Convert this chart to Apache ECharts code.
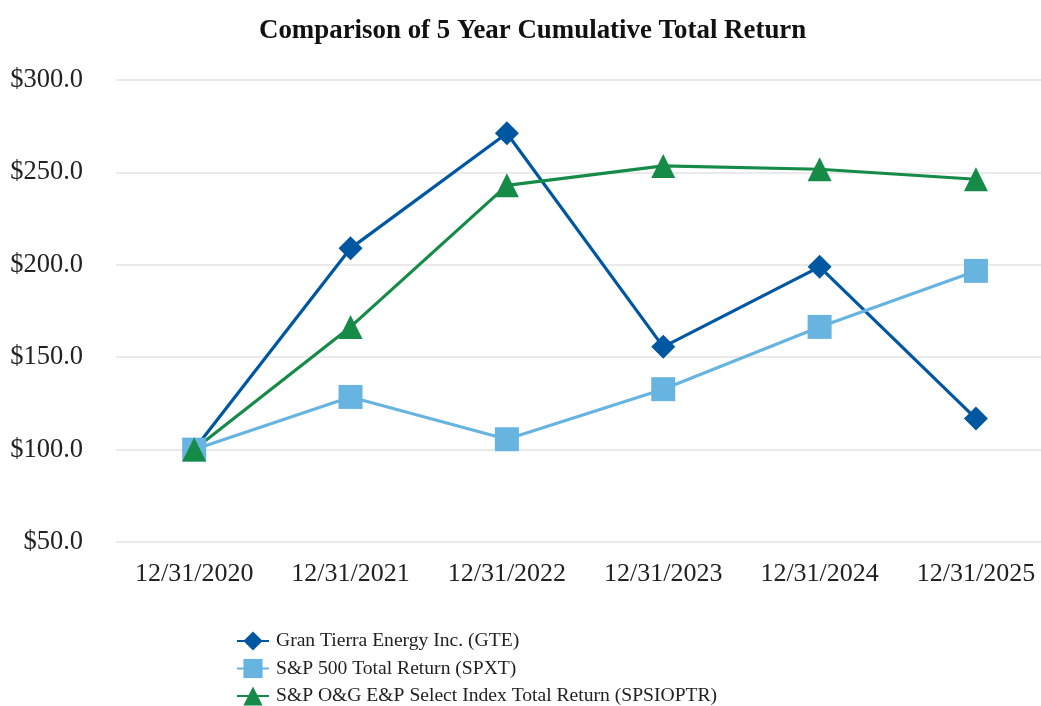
<!DOCTYPE html>
<html>
<head>
<meta charset="utf-8">
<script src="https://cdn.jsdelivr.net/npm/echarts@6/dist/echarts.min.js"></script>
<style>
  html, body { margin: 0; padding: 0; background: #fff; }
  #chart { width: 1041px; height: 706px; }
</style>
</head>
<body>
<div id="chart"></div>
<script>
// data
const years = ["12/31/2020", "12/31/2021", "12/31/2022", "12/31/2023", "12/31/2024", "12/31/2025"];
const gte = [100.0, 208.9, 271.2, 155.6, 198.9, 116.8];
const spxt = [100.0, 128.5, 105.6, 132.7, 166.4, 196.7];
const spsioptr = [100.0, 166.4, 243.0, 253.5, 251.7, 246.3];
const seriesNames = [
  "Gran Tierra Energy Inc. (GTE)",
  "S&P 500 Total Return (SPXT)",
  "S&P O&G E&P Select Index Total Return (SPSIOPTR)"
];

const font = "'Liberation Serif', 'Times New Roman', serif";
const chart = echarts.init(document.getElementById("chart"));

// x is the year index; the last band runs past the right edge like the original
const yearIdx = years.map((y, i) => i);

function lineSeries(name, data, color, symbol, size) {
  return {
    name: name,
    type: "line",
    data: data.map((v, i) => [i, v]),
    symbol: symbol,
    symbolSize: size,
    lineStyle: { color: color, width: 3.2 },
    itemStyle: { color: color },
    animation: false
  };
}

chart.setOption({
  backgroundColor: "#fff",
  title: {
    text: "Comparison of 5 Year Cumulative Total Return",
    left: 259,
    top: 18,
    padding: 0,
    textStyle: { fontFamily: font, fontSize: 26.9, fontWeight: "bold", color: "#111" }
  },
  grid: { left: 116, right: 0, top: 80, bottom: 164 },
  xAxis: {
    type: "value",
    min: -0.5,
    max: 5.416,
    axisLine: { show: false },
    axisTick: { show: false },
    splitLine: { show: false },
    axisLabel: {
      customValues: yearIdx,
      formatter: v => years[Math.round(v)],
      fontFamily: font, fontSize: 26, color: "#222", margin: 19
    }
  },
  yAxis: {
    type: "value",
    min: 50,
    max: 300,
    interval: 50,
    axisLine: { show: false },
    axisTick: { show: false },
    axisLabel: {
      fontFamily: font, fontSize: 26.5, color: "#222", margin: 33,
      formatter: v => "$" + v.toFixed(1)
    },
    splitLine: { lineStyle: { color: "#e3e3e3", width: 1.5 } }
  },
  legend: {
    orient: "vertical",
    left: 236,
    top: 631,
    height: 120,
    padding: 0,
    itemGap: 7.5,
    itemWidth: 32,
    itemHeight: 24,
    textStyle: { fontFamily: font, fontSize: 19.6, color: "#222", padding: [0, 0, 0, 2] },
    data: seriesNames
  },
  series: [
    lineSeries(seriesNames[0], gte, "#0057A1", "diamond", 24),
    lineSeries(seriesNames[1], spxt, "#68B4E0", "rect", 24),
    lineSeries(seriesNames[2], spsioptr, "#168B48", "triangle", 24)
  ]
});
</script>
</body>
</html>
